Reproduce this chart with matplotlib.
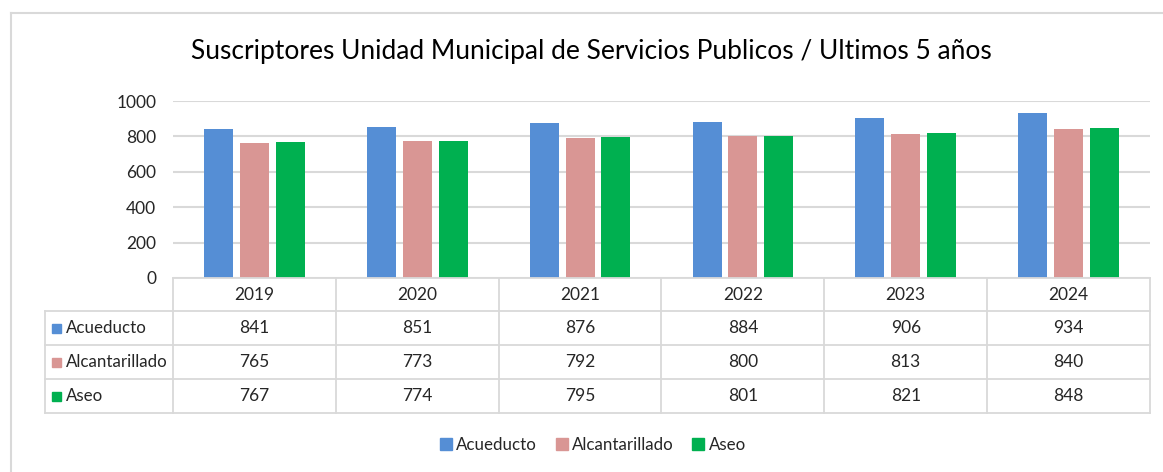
import numpy as np
import matplotlib
matplotlib.use("Agg")
import matplotlib.pyplot as plt
import matplotlib.transforms as mtransforms
from matplotlib.lines import Line2D
from matplotlib.patches import Rectangle

plt.rcParams["font.family"] = ["Lato", "DejaVu Sans"]

years = ["2019", "2020", "2021", "2022", "2023", "2024"]
series_names = ["Acueducto", "Alcantarillado", "Aseo"]
acueducto = [841, 851, 876, 884, 906, 934]
alcantarillado = [765, 773, 792, 800, 813, 840]
aseo = [767, 774, 795, 801, 821, 848]
colors = ["#558ED5", "#D99694", "#00B050"]
title = "Suscriptores Unidad Municipal de Servicios Publicos / Ultimos 5 años"

W, H = 1163, 472
fig = plt.figure(figsize=(W / 100, H / 100), dpi=100)


def fy(py):
    return 1 - py / H


def fx(px):
    return px / W


grid_c = "#D9D9D9"
text_c = "#262626"

# chart border (left and top visible)
fig.add_artist(Line2D([fx(11), fx(11)], [fy(13), 0], color=grid_c, lw=1.5))
fig.add_artist(Line2D([fx(11), 1], [fy(13), fy(13)], color=grid_c, lw=1.5))

ax = fig.add_axes([fx(173), fy(278), fx(1150) - fx(173), fy(101) - fy(278)])
x = np.arange(len(years))
data = [acueducto, alcantarillado, aseo]
offsets = [-0.22, 0.0, 0.22]
for vals, off, c, name in zip(data, offsets, colors, series_names):
    ax.bar(x + off, vals, width=0.178, color=c, label=name, zorder=3)

ax.set_xlim(-0.5, len(years) - 0.5)
ax.set_ylim(0, 1000)
ax.set_yticks(range(0, 1001, 200))
ax.yaxis.grid(True, color=grid_c, lw=1.5, zorder=0)
ax.set_xticks([])
ax.tick_params(axis="y", length=0, labelsize=12.5, labelcolor=text_c, pad=12)
for s in ax.spines.values():
    s.set_visible(False)

fig.text(fx(591), fy(52), title, ha="center", va="center", fontsize=19, color="#000000")

# data table
tr = mtransforms.blended_transform_factory(ax.transData, fig.transFigure)
row_tops = [278, 311, 345, 379, 413]
lw = 1.3
# horizontal lines
fig.add_artist(Line2D([fx(173), fx(1150)], [fy(278), fy(278)], color=grid_c, lw=lw))
for r in row_tops[1:]:
    fig.add_artist(Line2D([fx(45), fx(1150)], [fy(r), fy(r)], color=grid_c, lw=lw))
# vertical lines
fig.add_artist(Line2D([fx(45), fx(45)], [fy(311), fy(413)], color=grid_c, lw=lw))
for i in range(len(years) + 1):
    ax.add_line(Line2D([i - 0.5, i - 0.5], [fy(278), fy(413)], color=grid_c, lw=lw,
                       transform=tr, clip_on=False))

for i, yr in enumerate(years):
    ax.text(i, fy(295), yr, transform=tr, ha="center", va="center", fontsize=12.5, color=text_c)
for r, (name, vals, c) in enumerate(zip(series_names, data, colors)):
    yc = (row_tops[r + 1] + row_tops[r + 2]) / 2
    fig.add_artist(Rectangle((fx(52), fy(yc + 5)), fx(9), 9 / H, color=c))
    fig.text(fx(66), fy(yc), name, ha="left", va="center", fontsize=12.2, color=text_c)
    for i, v in enumerate(vals):
        ax.text(i, fy(yc), str(v), transform=tr, ha="center", va="center",
                fontsize=12.5, color=text_c)

handles = [Rectangle((0, 0), 1, 1, color=c) for c in colors]
fig.legend(handles, series_names, loc="center", bbox_to_anchor=(fx(593), fy(445)),
           ncol=3, frameon=False, fontsize=12.2, handlelength=0.7, handleheight=0.7,
           handletextpad=0.25, columnspacing=1.1, labelcolor=text_c)

fig.savefig("out.png", dpi=100)
